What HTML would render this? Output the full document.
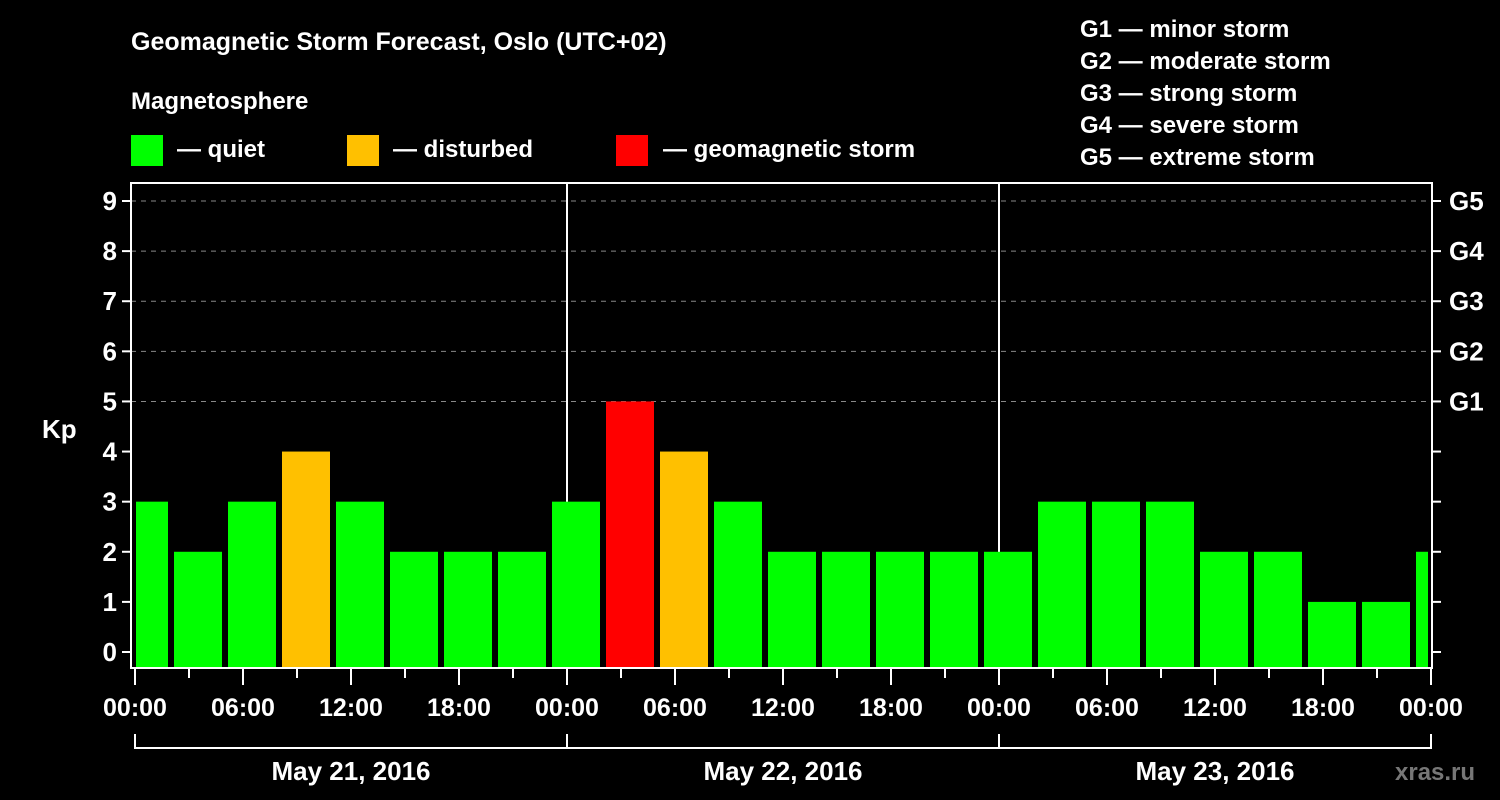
<!DOCTYPE html>
<html><head><meta charset="utf-8"><style>
html,body{margin:0;padding:0;background:#000;}
svg{display:block;font-family:"Liberation Sans",Arial,sans-serif;font-weight:bold;}
</style></head><body>
<svg id="chart" width="1500" height="800" viewBox="0 0 1500 800">
<rect width="1500" height="800" fill="#000"/>
<text x="131" y="50" fill="#fff" font-size="25">Geomagnetic Storm Forecast, Oslo (UTC+02)</text>
<text x="131" y="109" fill="#fff" font-size="24">Magnetosphere</text>
<g><rect x="131" y="135" width="32" height="31" fill="#00ff00"/><text x="177" y="157" fill="#fff" font-size="24">— quiet</text></g>
<g><rect x="347" y="135" width="32" height="31" fill="#ffc000"/><text x="393" y="157" fill="#fff" font-size="24">— disturbed</text></g>
<g><rect x="616" y="135" width="32" height="31" fill="#ff0000"/><text x="663" y="157" fill="#fff" font-size="24">— geomagnetic storm</text></g>
<g fill="#fff" font-size="24">
<text x="1080" y="37">G1 — minor storm</text>
<text x="1080" y="69">G2 — moderate storm</text>
<text x="1080" y="101">G3 — strong storm</text>
<text x="1080" y="133">G4 — severe storm</text>
<text x="1080" y="165">G5 — extreme storm</text>
</g>
<text x="42" y="438" fill="#fff" font-size="26">Kp</text>
<text x="1395" y="780" fill="#777" font-size="24">xras.ru</text>
<defs><clipPath id="plotclip"><rect x="136" y="183" width="1292" height="485"/></clipPath></defs>
<g id="grid"></g>
<g id="bars" clip-path="url(#plotclip)"></g>
<g id="axes"></g>
</svg>
<script>
const kpValues = [3,2,3,4,3,2,2,2, 3,5,4,3,2,2,2,2, 2,3,3,3,2,2,1,1, 2];
const yTicks = [0,1,2,3,4,5,6,7,8,9];
const gLabels = ["G1","G2","G3","G4","G5"];
const gLevels = [5,6,7,8,9];
const xTickLabels = ["00:00","06:00","12:00","18:00","00:00","06:00","12:00","18:00","00:00","06:00","12:00","18:00","00:00"];
const dayLabels = ["May 21, 2016","May 22, 2016","May 23, 2016"];
const firstBarHour = -1; // local hour of first bar start (UTC+02)

const NS="http://www.w3.org/2000/svg";
const x0=135, dayW=432, hourW=dayW/24;
const X=h=>x0+h*hourW;
const Y=v=>652-v*(451/9);
const plotTop=183, plotBot=668, plotL=131, plotR=1432;
function mk(tag,attrs,parent){const e=document.createElementNS(NS,tag);for(const k in attrs)e.setAttribute(k,attrs[k]);parent.appendChild(e);return e;}
const grid=document.getElementById('grid'), bars=document.getElementById('bars'), axes=document.getElementById('axes');

gLevels.forEach(v=>{
  const l=mk('line',{x1:plotL,x2:plotR,y1:Y(v),y2:Y(v),stroke:'#888','stroke-width':1,'stroke-dasharray':'5,5'},grid);
  
  
});
[1,2].forEach(d=>{
  const l=mk('line',{x1:X(24*d),x2:X(24*d),y1:plotTop,y2:plotBot,stroke:'#fff','stroke-width':2},grid);
  
  
});

kpValues.forEach((v,i)=>{
  const h=firstBarHour+3*i;
  const color=v>=5?'#ff0000':(v>=4?'#ffc000':'#00ff00');
  const r=mk('rect',{x:X(h)+3,y:Y(v),width:3*hourW-6,height:667-Y(v),fill:color},bars);
  
  
});

const frame=mk('rect',{x:plotL,y:plotTop,width:plotR-plotL,height:plotBot-plotTop,fill:'none',stroke:'#fff','stroke-width':2},axes);



yTicks.forEach(v=>{
  mk('line',{x1:122,x2:plotL,y1:Y(v),y2:Y(v),stroke:'#fff','stroke-width':2},axes);
  mk('line',{x1:plotR,x2:1441,y1:Y(v),y2:Y(v),stroke:'#fff','stroke-width':2},axes);
  const t=mk('text',{x:117,y:Y(v)+9,fill:'#fff','font-size':26,'text-anchor':'end'},axes);
  t.textContent=v;
  
  
});
gLabels.forEach((g,i)=>{
  const t=mk('text',{x:1449,y:Y(gLevels[i])+9,fill:'#fff','font-size':26},axes);
  t.textContent=g;
  
  
});
for(let h=0;h<=72;h+=3){
  const long=h%6===0;
  mk('line',{x1:X(h),x2:X(h),y1:plotBot,y2:long?685:678,stroke:'#fff','stroke-width':2},axes);
}
xTickLabels.forEach((s,i)=>{
  const t=mk('text',{x:X(6*i),y:716,fill:'#fff','font-size':25,'text-anchor':'middle'},axes);
  t.textContent=s;
  
  
});
mk('line',{x1:X(0),x2:X(72),y1:748,y2:748,stroke:'#fff','stroke-width':2},axes);
for(let d=0;d<=3;d++) mk('line',{x1:X(24*d),x2:X(24*d),y1:734,y2:749,stroke:'#fff','stroke-width':2},axes);
dayLabels.forEach((s,i)=>{
  const t=mk('text',{x:X(24*i+12),y:780,fill:'#fff','font-size':26,'text-anchor':'middle'},axes);
  t.textContent=s;
  
  
});
</script>
</body></html>
